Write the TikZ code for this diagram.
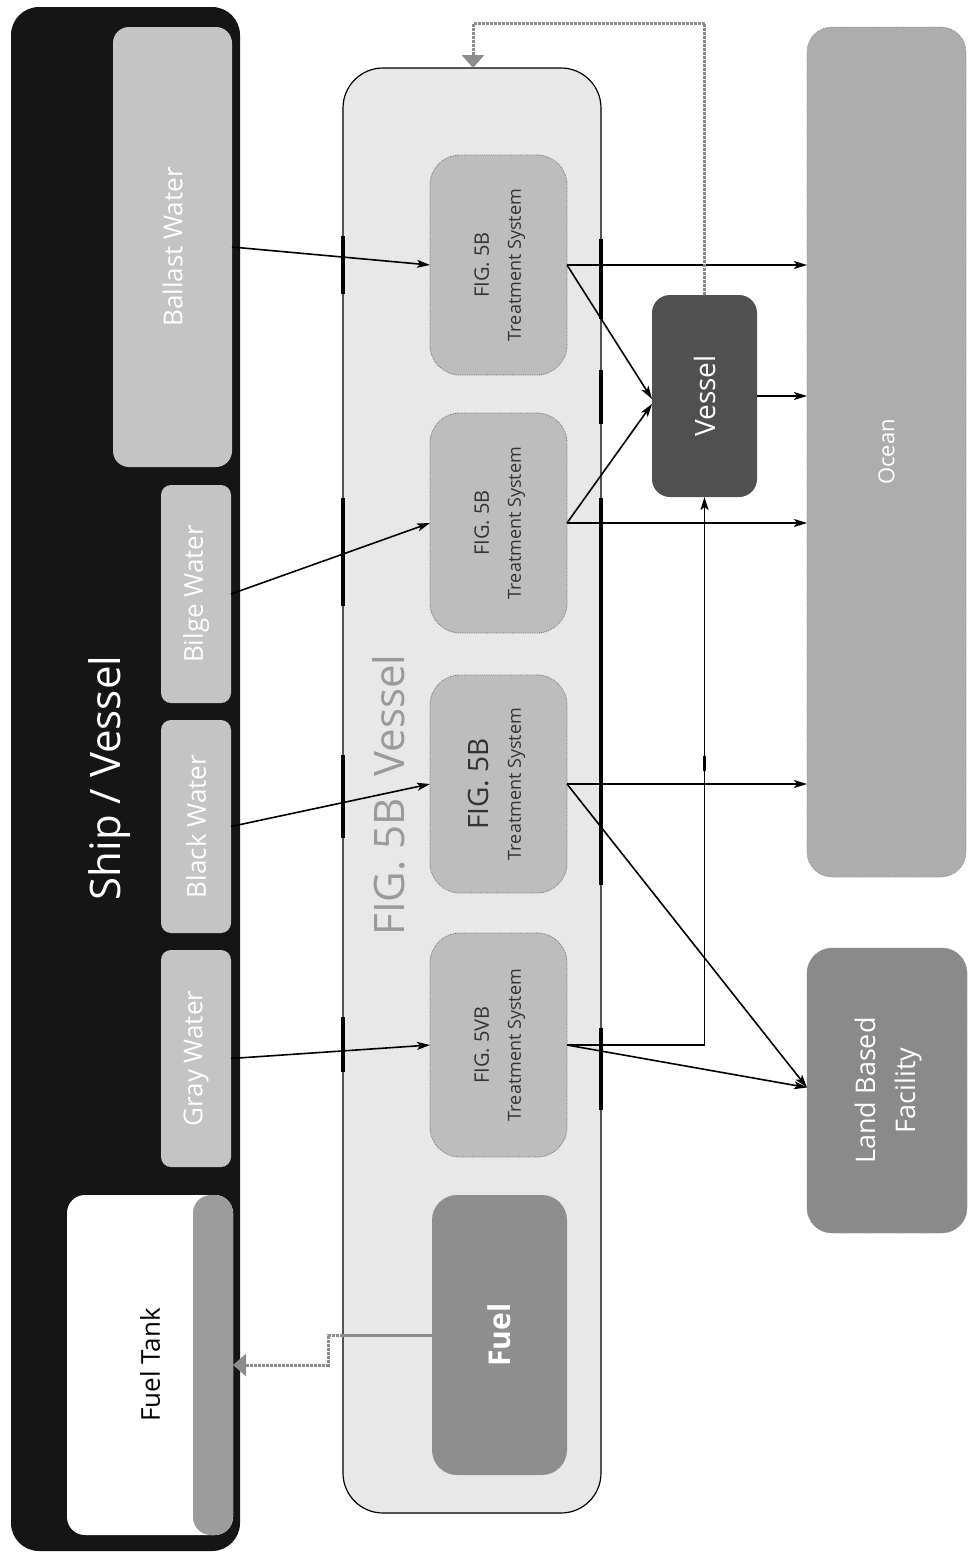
\documentclass[tikz,border=0pt]{standalone}
\usepackage{fontspec}
\setmainfont{Open Sans}
\usepackage{graphicx}
\usetikzlibrary{arrows.meta,calc}
\definecolor{shipblk}{HTML}{151515}
\definecolor{waterbox}{HTML}{C4C4C4}
\definecolor{contfill}{HTML}{E8E8E8}
\definecolor{tsfill}{HTML}{BDBDBD}
\definecolor{fuelfill}{HTML}{8E8E8E}
\definecolor{vesselfill}{HTML}{505050}
\definecolor{oceanfill}{HTML}{ADADAD}
\definecolor{landfill}{HTML}{8A8A8A}
\definecolor{stripfill}{HTML}{9C9C9C}
\definecolor{labelgray}{HTML}{9A9A9A}
\definecolor{pipegray}{HTML}{8C8C8C}
\newcommand{\myfs}[2]{\fontsize{#1pt}{#2pt}\selectfont}
\begin{document}
\begin{tikzpicture}[x=1pt,y=-1pt,
  blk/.style={rectangle, inner sep=0pt, outer sep=0pt, align=center},
  waterstyle/.style={blk, fill=waterbox, rounded corners=10pt, text=white},
  tsstyle/.style={blk, fill=tsfill, rounded corners=30pt, draw=black!55, densely dotted, line width=0.8pt, text=black!80},
  destbox/.style={blk, rounded corners=25pt, text=white, draw=black!45, densely dotted, line width=0.7pt},
  arr/.style={draw=black, line width=1.6pt, -{Stealth[length=13pt,width=8pt,inset=3pt]}},
  wallmark/.style={draw=black, line width=4pt},
  pipe/.style={draw=pipegray, line width=3pt, densely dotted},
  pipetip/.style={-{Triangle[length=13pt,width=22pt,fill=pipegray,color=pipegray]}}
]
\useasboundingbox (0,0) rectangle (970,1556);
\fill[white] (0,0) rectangle (970,1556);

% ship / vessel
\node[blk, fill=shipblk, rounded corners=28pt, minimum width=229pt, minimum height=1544pt] (ship) at (125.5,779) {};
\node[text=white] (shiplabel) at (110,778) {\rotatebox{90}{\myfs{42}{50}Ship / Vessel}};
\node[waterstyle, rounded corners=16pt, minimum width=119pt, minimum height=440pt] (ballast) at (172.5,247) {\rotatebox{90}{\myfs{26}{30}Ballast Water}};
\node[waterstyle, minimum width=70pt, minimum height=218pt] (bilge) at (196,594) {\rotatebox{90}{\myfs{26}{30}Bilge Water}};
\node[waterstyle, minimum width=70pt, minimum height=213pt] (blackw) at (196,826.5) {\rotatebox{90}{\myfs{26}{30}Black Water}};
\node[waterstyle, minimum width=70pt, minimum height=217pt] (grayw) at (196,1058.5) {\rotatebox{90}{\myfs{26}{30}Gray Water}};
\node[blk, fill=white, rounded corners=18pt, minimum width=166pt, minimum height=340pt,
  path picture={\fill[stripfill] ([xshift=-40pt]path picture bounding box.north east) rectangle (path picture bounding box.south east);}] (fueltank) at (150,1365) {\rotatebox{90}{\myfs{26}{30}Fuel Tank}};

% FIG. 5B vessel container
\node[blk, fill=contfill, draw=black, line width=1.2pt, rounded corners=40pt, minimum width=258pt, minimum height=1445pt] (container) at (472,790.5) {};
\node[text=labelgray] (contlabel) at (389,795) {\rotatebox{90}{\myfs{42}{50}FIG. 5B\ \ Vessel}};
\draw[wallmark] (343,236) -- (343,294);
\draw[wallmark] (343,498) -- (343,606);
\draw[wallmark] (343,755) -- (343,838);
\draw[wallmark] (343,1017) -- (343,1072);
\draw[wallmark] (601,239) -- (601,319);
\draw[wallmark] (601,370) -- (601,424);
\draw[wallmark] (601,498) -- (601,885);
\draw[wallmark] (601,1028) -- (601,1110);

\node[tsstyle, minimum width=137pt, minimum height=220pt] (ts1) at (498.5,265) {\rotatebox{90}{\myfs{18}{32}\begin{tabular}{@{}c@{}}{\myfs{20}{24}FIG. 5B}\\Treatment System\end{tabular}}};
\node[tsstyle, minimum width=137pt, minimum height=220pt] (ts2) at (498.5,523) {\rotatebox{90}{\myfs{18}{32}\begin{tabular}{@{}c@{}}{\myfs{20}{24}FIG. 5B}\\Treatment System\end{tabular}}};
\node[tsstyle, minimum width=137pt, minimum height=218pt] (ts3) at (498.5,784) {\rotatebox{90}{\myfs{18}{32}\begin{tabular}{@{}c@{}}{\myfs{28}{32}FIG. 5B}\\Treatment System\end{tabular}}};
\node[tsstyle, minimum width=137pt, minimum height=224pt] (ts4) at (498.5,1045) {\rotatebox{90}{\myfs{18}{32}\begin{tabular}{@{}c@{}}{\myfs{20}{24}FIG. 5VB}\\Treatment System\end{tabular}}};
\node[blk, fill=fuelfill, rounded corners=25pt, minimum width=135pt, minimum height=280pt, text=white] (fuel) at (499.5,1335) {\rotatebox{90}{\myfs{30}{36}\bfseries Fuel}};

% destinations
\node[blk, fill=vesselfill, rounded corners=18pt, minimum width=105pt, minimum height=202pt, text=white] (vessel) at (704.5,396) {\rotatebox{90}{\myfs{28}{34}Vessel}};
\node[destbox, fill=oceanfill, minimum width=159pt, minimum height=850pt] (ocean) at (886.5,452) {\rotatebox{90}{\myfs{22}{26}Ocean}};
\node[destbox, fill=landfill, minimum width=160pt, minimum height=285pt] (land) at (887,1090.5) {\rotatebox{90}{\myfs{27}{40}\begin{tabular}{@{}c@{}}Land Based\\Facility\end{tabular}}};

% inflows
\draw[arr] (ballast.east) -- (ts1.west);
\draw[arr] (bilge.east) -- (ts2.west);
\draw[arr] (blackw.east) -- (ts3.west);
\draw[arr] (grayw.east) -- (ts4.west);

% outflows
\draw[arr] (ts1.east) -- (ts1.east -| ocean.west);
\draw[arr] (ts1.east) -- ($(vessel.west)+(0,3)$);
\draw[arr] (ts2.east) -- (ts2.east -| ocean.west);
\draw[arr] (ts2.east) -- ($(vessel.west)+(0,8)$);
\draw[arr] (vessel.east) -- (vessel.east -| ocean.west);
\draw[arr] (ts3.east) -- (ts3.east -| ocean.west);
\draw[arr] (ts3.east) -- ($(land.west)+(0,-3)$);
\draw[arr] (ts4.east) -- ($(land.west)+(0,-3)$);
\draw[arr] (ts4.east) -| (vessel.south);
\draw[wallmark, line width=3pt] (704.5,756) -- (704.5,771);

% vessel return (dotted)
\coordinate (topturn) at (473,23);
\draw[pipe, pipetip] (vessel.north) |- (topturn) -- (topturn |- container.north);

% fuel to fuel tank
\coordinate (kink) at (328,1350);
\draw[draw=pipegray, line width=3pt] (fuel.west) -- (fuel.west -| container.west);
\draw[pipe, pipetip] (fuel.west -| container.west) -| (kink) |- (fueltank.east);
\end{tikzpicture}
\end{document}
